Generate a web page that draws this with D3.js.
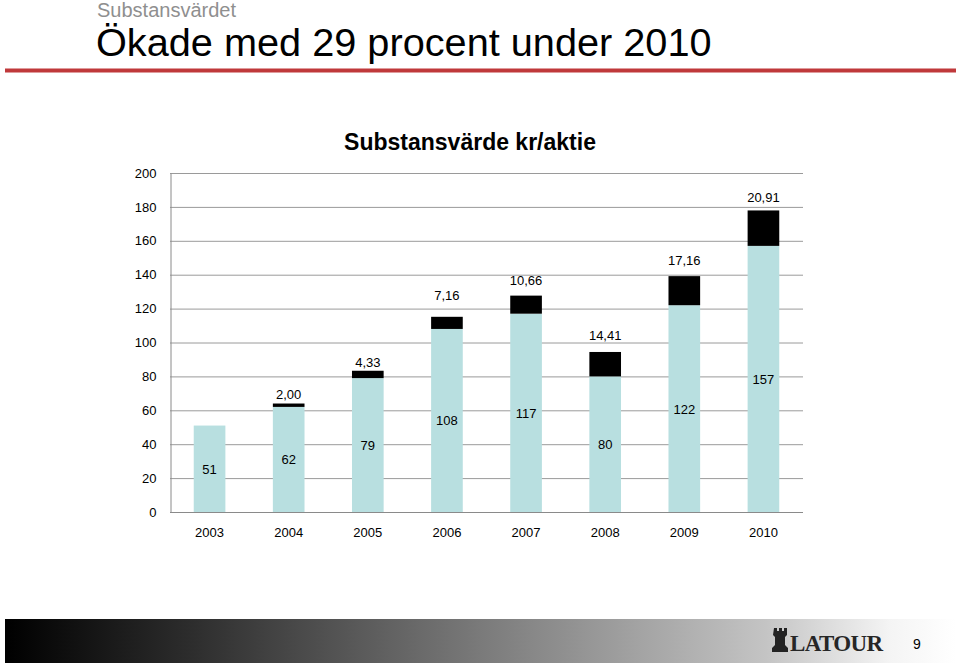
<!DOCTYPE html>
<html>
<head>
<meta charset="utf-8">
<script src="https://cdn.jsdelivr.net/npm/d3@7/dist/d3.min.js"></script>
<style>
  html, body { margin: 0; padding: 0; background: #fff; }
  svg { display: block; font-family: "Liberation Sans", Arial, sans-serif; }
</style>
</head>
<body>
<svg id="chart" width="960" height="665"></svg>
<script>
// ---- data ----
const years = ["2003", "2004", "2005", "2006", "2007", "2008", "2009", "2010"];
const baseValues = [51, 62, 79, 108, 117, 80, 122, 157];
const addedValues = [0, 2.00, 4.33, 7.16, 10.66, 14.41, 17.16, 20.91];
const addedLabels = ["", "2,00", "4,33", "7,16", "10,66", "14,41", "17,16", "20,91"];
const yTicks = [0, 20, 40, 60, 80, 100, 120, 140, 160, 180, 200];
// label gap above the black segment (style, px)
const labelLift = [0, 5, 4, 17, 11, 12, 11, 8];

const svg = d3.select("#chart");

// ---- header ----
svg.append("text").attr("x", 97).attr("y", 17)
  .attr("font-size", 20).attr("fill", "#8f8f8f").text("Substansvärdet");
svg.append("text").attr("x", 96).attr("y", 56)
  .attr("font-size", 39.7).attr("fill", "#000").text("Ökade med 29 procent under 2010");
svg.append("rect").attr("x", 5).attr("y", 68.5).attr("width", 951).attr("height", 4)
  .attr("fill", "#c0393b");

// ---- chart ----
const x = d3.scaleBand().domain(years).range([170, 803]).paddingInner(0.6).paddingOuter(0.3);
const y = d3.scaleLinear().domain([0, 200]).range([512, 173]);

svg.append("text").attr("x", 470).attr("y", 150).attr("text-anchor", "middle")
  .attr("font-size", 23).attr("font-weight", "bold").attr("fill", "#000")
  .text("Substansvärde kr/aktie");

// gridlines
svg.append("g").selectAll("line").data(yTicks.filter(d => d > 0)).join("line")
  .attr("x1", 170).attr("x2", 803)
  .attr("y1", d => y(d) + 0.5).attr("y2", d => y(d) + 0.5)
  .attr("stroke", "#9a9a9a").attr("stroke-width", 1);

// y axis
const yAxis = d3.axisLeft(y).tickValues(yTicks).tickSize(0).tickPadding(14);
const gy = svg.append("g").attr("transform", "translate(170.5,0)").call(yAxis);
gy.select(".domain").attr("stroke", "#8a8a8a");
gy.selectAll("text").attr("font-size", 13).attr("fill", "#000")
  .attr("font-family", "Liberation Sans, Arial, sans-serif");

// bars
const bars = svg.append("g");
bars.selectAll("rect.base").data(years).join("rect").attr("class", "base")
  .attr("x", d => x(d)).attr("width", x.bandwidth())
  .attr("y", (d, i) => y(baseValues[i]))
  .attr("height", (d, i) => y(0) - y(baseValues[i]))
  .attr("fill", "#b8dfe0");
bars.selectAll("rect.add").data(years).join("rect").attr("class", "add")
  .attr("x", d => x(d)).attr("width", x.bandwidth())
  .attr("y", (d, i) => y(baseValues[i] + addedValues[i]))
  .attr("height", (d, i) => y(baseValues[i]) - y(baseValues[i] + addedValues[i]))
  .attr("fill", "#000");

// x axis
const xAxis = d3.axisBottom(x).tickSize(0).tickPadding(15);
const gx = svg.append("g").attr("transform", "translate(0,512.5)").call(xAxis);
gx.select(".domain").attr("stroke", "#8a8a8a").attr("d", "M170,0H803");
gx.selectAll("text").attr("font-size", 13).attr("fill", "#000")
  .attr("font-family", "Liberation Sans, Arial, sans-serif");

// value labels
svg.append("g").selectAll("text").data(years).join("text")
  .attr("x", d => x(d) + x.bandwidth() / 2)
  .attr("y", (d, i) => y(baseValues[i] / 2) + 5)
  .attr("text-anchor", "middle").attr("font-size", 13).attr("fill", "#000")
  .text((d, i) => baseValues[i]);
svg.append("g").selectAll("text").data(years).join("text")
  .attr("x", d => x(d) + x.bandwidth() / 2)
  .attr("y", (d, i) => y(baseValues[i] + addedValues[i]) - labelLift[i])
  .attr("text-anchor", "middle").attr("font-size", 13).attr("fill", "#000")
  .text((d, i) => addedLabels[i]);

// ---- footer ----
const defs = svg.append("defs");
const grad = defs.append("linearGradient").attr("id", "foot").attr("x1", "0").attr("x2", "1");
grad.append("stop").attr("offset", "0").attr("stop-color", "#000");
grad.append("stop").attr("offset", "0.2").attr("stop-color", "#2e2e2e");
grad.append("stop").attr("offset", "0.5").attr("stop-color", "#7a7a7a");
grad.append("stop").attr("offset", "0.8").attr("stop-color", "#c4c4c4");
grad.append("stop").attr("offset", "0.93").attr("stop-color", "#f4f4f4");
grad.append("stop").attr("offset", "1").attr("stop-color", "#fff");
svg.append("rect").attr("x", 5).attr("y", 619).attr("width", 951).attr("height", 44)
  .attr("fill", "url(#foot)");

// rook icon
svg.append("path")
  .attr("d", "M774,628 h3 v3 h2 v-3 h3 v3 h2 v-3 h3 v7 l-2,2 v8 l3,3 v4 h-16 v-4 l3,-3 v-8 l-2,-2 z")
  .attr("fill", "#222");
svg.append("text").attr("x", 790).attr("y", 651)
  .attr("font-family", "Liberation Serif, Times New Roman, serif")
  .attr("font-size", 23).attr("font-weight", "bold").attr("fill", "#262626")
  .attr("textLength", 93).text("LATOUR");
svg.append("text").attr("x", 917).attr("y", 649).attr("text-anchor", "middle")
  .attr("font-size", 14).attr("fill", "#000").text("9");
</script>
</body>
</html>
